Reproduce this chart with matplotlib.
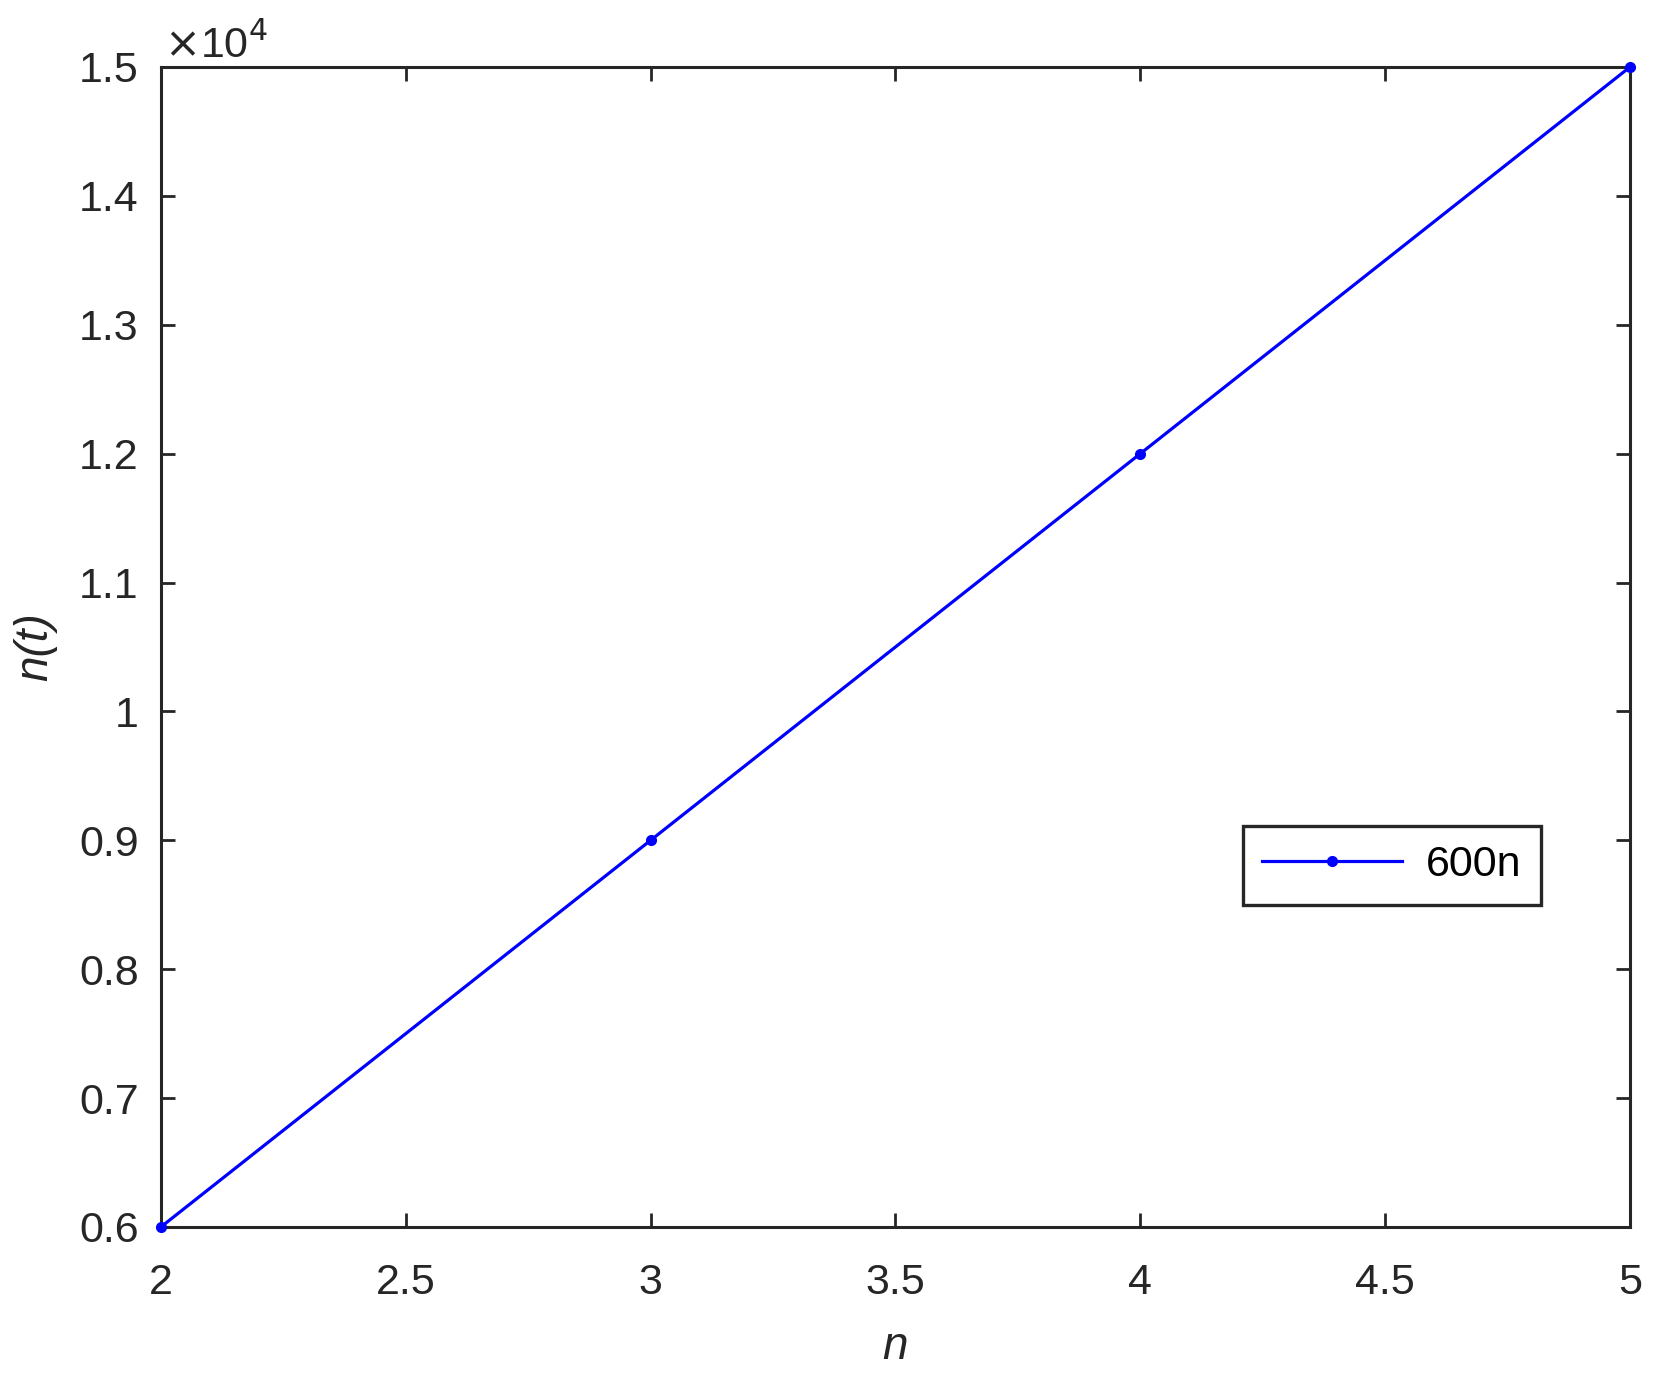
import numpy as np
import matplotlib.pyplot as plt

# data
n_vals = [2, 3, 4, 5]
nt_vals = [6000, 9000, 12000, 15000]
xticks = [2, 2.5, 3, 3.5, 4, 4.5, 5]
xtick_labels = ['2', '2.5', '3', '3.5', '4', '4.5', '5']
yticks = [6000, 7000, 8000, 9000, 10000, 11000, 12000, 13000, 14000, 15000]
ytick_labels = ['0.6', '0.7', '0.8', '0.9', '1', '1.1', '1.2', '1.3', '1.4', '1.5']

plt.rcParams['font.family'] = ['Liberation Sans', 'DejaVu Sans']
grey = '#262626'

fig = plt.figure(figsize=(16.56, 13.87), dpi=100)
ax = fig.add_axes([0.0972, 0.1154, 0.8871, 0.8363])

ax.plot(n_vals, nt_vals, '-', marker='o', color='#0000ff', lw=2.3, markersize=7,
        label='600n', clip_on=False, zorder=5)

ax.set_xlim(2, 5)
ax.set_ylim(6000, 15000)
ax.set_xticks(xticks)
ax.set_xticklabels(xtick_labels)
ax.set_yticks(yticks)
ax.set_yticklabels(ytick_labels)
ax.tick_params(direction='in', length=10, width=2, labelsize=31, colors=grey,
               top=True, right=True, pad=16)
ax.tick_params(axis='x', pad=26)
for s in ax.spines.values():
    s.set_linewidth(2.2)
    s.set_color(grey)

ax.text(0.002, 1.0, r'$\times$10$^4$', transform=ax.transAxes, fontsize=31,
        color=grey, ha='left', va='bottom')

ax.set_xlabel('n', fontsize=33, style='italic', color=grey, labelpad=16)
ax.set_ylabel('n(t)', fontsize=33, style='italic', color=grey, labelpad=16)

leg = ax.legend(loc='upper left', bbox_to_anchor=(0.7366, 0.3457), fontsize=31,
                frameon=True, fancybox=False, handlelength=3.25, handletextpad=0.55,
                borderpad=0.45, borderaxespad=0)
leg.get_frame().set_edgecolor(grey)
leg.get_frame().set_linewidth(2.4)
leg.get_frame().set_alpha(1)
for t in leg.get_texts():
    t.set_color('black')

fig.savefig('out.png', dpi=100)
